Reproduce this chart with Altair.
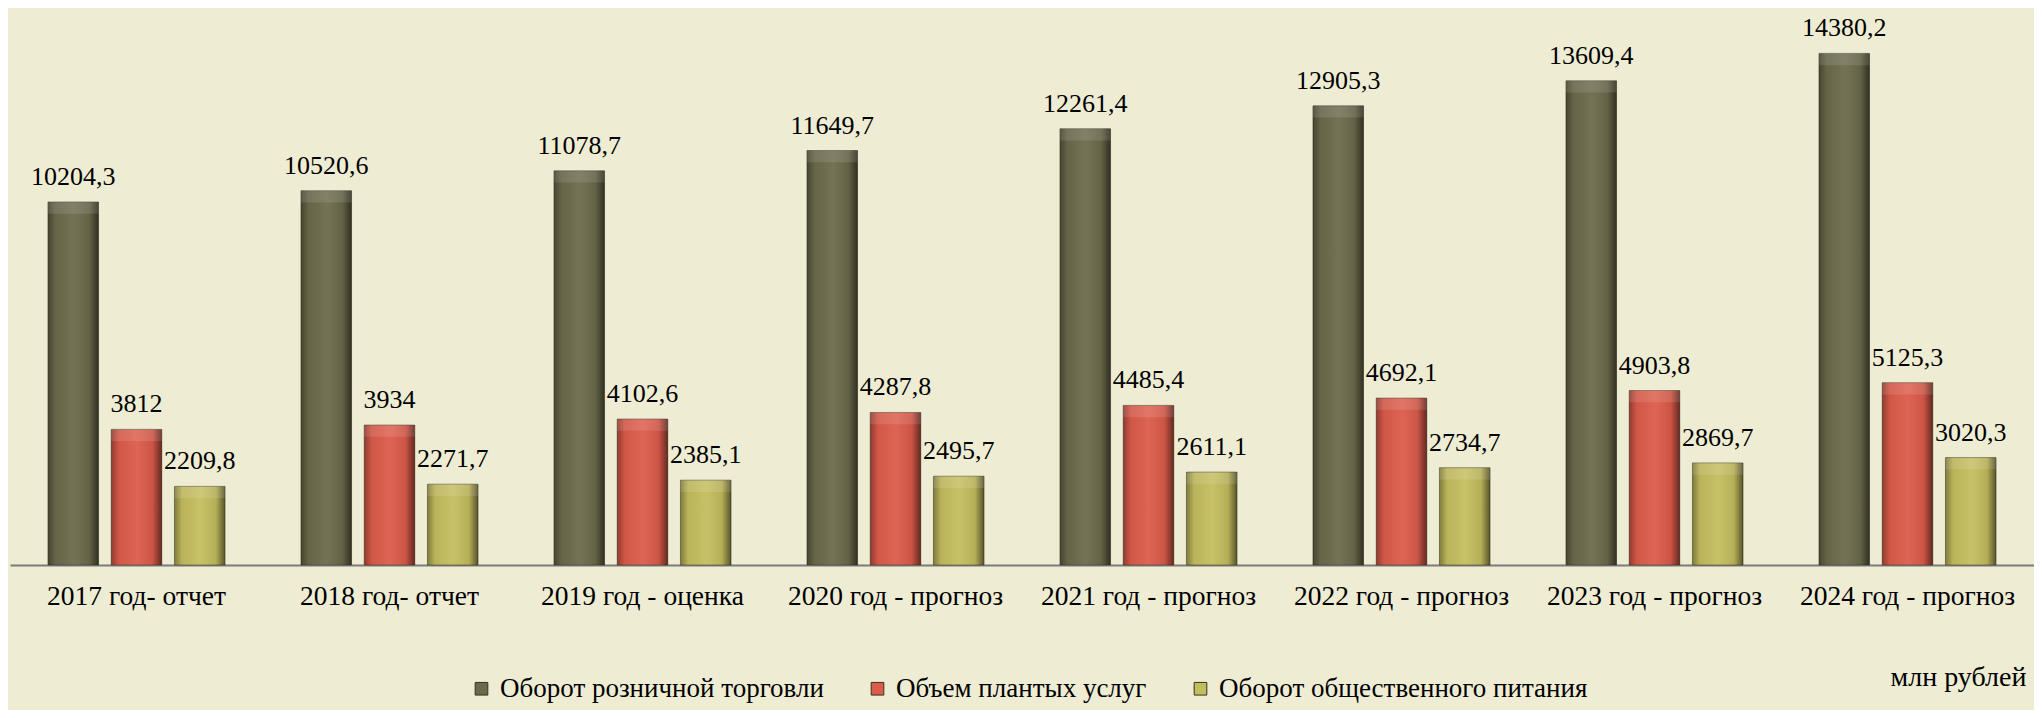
import altair as alt
import pandas as pd

categories = ["2017 год- отчет", "2018 год- отчет", "2019 год - оценка", "2020 год - прогноз",
              "2021 год - прогноз", "2022 год - прогноз", "2023 год - прогноз", "2024 год - прогноз"]
series = ["Оборот розничной торговли", "Объем плантых услуг", "Оборот общественного питания"]
retail = [10204.3, 10520.6, 11078.7, 11649.7, 12261.4, 12905.3, 13609.4, 14380.2]
services = [3812, 3934, 4102.6, 4287.8, 4485.4, 4692.1, 4903.8, 5125.3]
catering = [2209.8, 2271.7, 2385.1, 2495.7, 2611.1, 2734.7, 2869.7, 3020.3]
colors = ["#6b6a4b", "#dc5b4a", "#c4bd5e"]

rows = []
for s, vals in zip(series, [retail, services, catering]):
    for c, v in zip(categories, vals):
        rows.append({"cat": c, "series": s, "value": v,
                     "label": f"{v:g}".replace(".", ",")})
df = pd.DataFrame(rows)

FONT = "Liberation Serif, DejaVu Serif, serif"

x = alt.X("cat:N", sort=categories,
          scale=alt.Scale(paddingInner=0, paddingOuter=0),
          axis=alt.Axis(title="млн рублей", labelAngle=0, labelFont=FONT, labelFontSize=27.5,
                        labelColor="#000000", labelPadding=17, ticks=False, labelLimit=0,
                        domainColor="#7b7b7b", domainWidth=2, grid=False,
                        titleFont=FONT, titleFontSize=28, titleFontWeight="normal",
                        titleColor="#000000", titleX=1880, titleY=120,
                        titleAlign="left", titleBaseline="alphabetic", titleAnchor="start"))
xo = alt.XOffset("series:N", sort=series,
                 scale=alt.Scale(paddingInner=0.2, paddingOuter=0.6))
y = alt.Y("value:Q", scale=alt.Scale(domain=[0, 15600]), axis=None)

base = alt.Chart(df)

bars = base.mark_bar(stroke="#3a3a28", strokeWidth=1, strokeOpacity=0.5).encode(
    x=x, xOffset=xo, y=y,
    color=alt.Color("series:N", sort=series,
                    scale=alt.Scale(domain=series, range=colors),
                    legend=alt.Legend(title=None, orient="none", direction="horizontal",
                                      legendX=458, legendY=665, padding=0,
                                      symbolType="square", symbolSize=160,
                                      symbolStrokeColor="#333322", symbolStrokeWidth=1,
                                      labelFont=FONT, labelFontSize=27, labelColor="#000000",
                                      labelLimit=0, columnPadding=40, labelOffset=5)),
)

shade = base.mark_bar(
    color={"gradient": "linear", "x1": 0, "x2": 1, "y1": 0, "y2": 0,
           "stops": [{"offset": 0, "color": "rgba(0,0,0,0.35)"},
                     {"offset": 0.15, "color": "rgba(0,0,0,0.05)"},
                     {"offset": 0.5, "color": "rgba(255,255,255,0.06)"},
                     {"offset": 0.82, "color": "rgba(0,0,0,0.08)"},
                     {"offset": 1, "color": "rgba(0,0,0,0.55)"}]}
).encode(x=x, xOffset=xo, y=y)

# light bevel strip along the top edge of each bar
top = base.transform_calculate(
    top_low="datum.value - 330"
).mark_bar(color="#ffffff", opacity=0.11).encode(
    x=x, xOffset=xo, y=y, y2="top_low:Q")

labels = base.mark_text(font=FONT, fontSize=26, color="#000000", baseline="alphabetic",
                        dy=-17).encode(x=x, xOffset=xo, y=y, text="label:N")

chart = alt.layer(bars, shade, top, labels).properties(
    width=2024, height=555,
    autosize=alt.AutoSizeParams(type="none"),
    padding={"left": 2, "top": 2, "right": 0, "bottom": 145},
    background="#eeedd4",
).configure_view(stroke=None)

chart.save("out.html", embed_options={"renderer": "svg", "actions": False})
